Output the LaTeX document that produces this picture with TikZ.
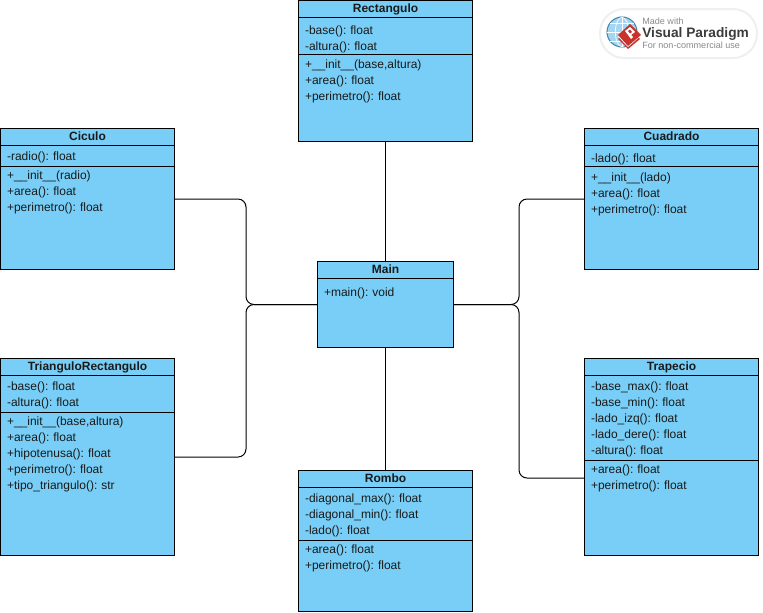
\documentclass[tikz,border=0pt]{standalone}
\usepackage{fontspec}
\setmainfont{Liberation Sans}
\usetikzlibrary{positioning}
\frenchspacing
\definecolor{ClassFill}{HTML}{78CEF6}
\definecolor{Ink}{HTML}{1A1A1A}
\definecolor{PillEdge}{HTML}{EFEFEF}
\definecolor{GlobeBlue}{HTML}{7CC4EC}
\definecolor{GlobeEdge}{HTML}{4A86A8}
\definecolor{LogoRed}{HTML}{C8322B}
\definecolor{LogoGray}{HTML}{8A8A8A}
\definecolor{LogoDark}{HTML}{3C3C3C}

\begin{document}
\begin{tikzpicture}[
  x=0.75pt,y=-0.75pt,
  classbox/.style={draw=black,fill=ClassFill,line width=0.75pt,outer sep=0pt,anchor=north west,minimum width=130.5pt},
  titlebox/.style={draw=black,fill=ClassFill,line width=0.75pt,outer sep=0pt,inner sep=0pt,minimum width=130.5pt,minimum height=12.75pt,text height=6.5pt,text depth=1.5pt,font=\fontsize{9}{12}\selectfont\bfseries,text=Ink},
  attrbox/.style={draw=black,fill=ClassFill,line width=0.75pt,outer sep=0pt,inner xsep=4.9pt,inner ysep=0pt,text width=120.7pt,align=left,minimum height=#1*12pt+3.75pt,font=\fontsize{9}{12}\selectfont,text=Ink,execute at begin node={\rule{0pt}{8.7pt}}},
  methodtext/.style={anchor=north west,outer sep=0pt,inner xsep=4.9pt,inner ysep=2.85pt,text width=120.7pt,align=left,font=\fontsize{9}{12}\selectfont,text=Ink},
  conn/.style={draw=black,line width=0.75pt,rounded corners=6pt}
]
\useasboundingbox (0,0) rectangle (763,612);
% classes
\node[classbox,minimum height=105.75pt] (rectangulo) at (298.5,0.5) {};
\node[titlebox,below=0pt of rectangulo.north] (rectanguloT) {Rectangulo};
\node[attrbox=2,below=0pt of rectanguloT,execute at begin node={\rule{0pt}{11.7pt}}] (rectanguloA) {-base(): float\\-altura(): float};
\node[methodtext,inner ysep=4pt] (rectanguloM) at (rectanguloA.south west) {+\_\_init\_\_(base,altura)\\+area(): float\\+perimetro(): float};

\node[classbox,minimum height=105.75pt] (ciculo) at (0.5,128.5) {};
\node[titlebox,below=0pt of ciculo.north] (ciculoT) {Ciculo};
\node[attrbox=1,below=0pt of ciculoT] (ciculoA) {-radio(): float};
\node[methodtext] (ciculoM) at (ciculoA.south west) {+\_\_init\_\_(radio)\\+area(): float\\+perimetro(): float};

\node[classbox,minimum height=105.75pt] (cuadrado) at (584.5,128.5) {};
\node[titlebox,below=0pt of cuadrado.north] (cuadradoT) {Cuadrado};
\node[attrbox=1,below=0pt of cuadradoT,execute at begin node={\rule{0pt}{12.2pt}}] (cuadradoA) {-lado(): float};
\node[methodtext,inner ysep=4.85pt] (cuadradoM) at (cuadradoA.south west) {+\_\_init\_\_(lado)\\+area(): float\\+perimetro(): float};

\node[classbox,minimum width=102pt,minimum height=64.5pt] (main) at (317.5,261.5) {};
\node[titlebox,minimum width=102pt,below=0pt of main.north] (mainT) {Main};
\node[methodtext,text width=92pt,inner ysep=7pt] (mainM) at (mainT.south west) {+main(): void};

\node[classbox,minimum height=147.75pt] (triangulo) at (0.5,358.5) {};
\node[titlebox,below=0pt of triangulo.north] (trianguloT) {TrianguloRectangulo};
\node[attrbox=2,below=0pt of trianguloT] (trianguloA) {-base(): float\\-altura(): float};
\node[methodtext] (trianguloM) at (trianguloA.south west) {+\_\_init\_\_(base,altura)\\+area(): float\\+hipotenusa(): float\\+perimetro(): float\\+tipo\_triangulo(): str};

\node[classbox,minimum height=147.75pt] (trapecio) at (584.5,358.5) {};
\node[titlebox,below=0pt of trapecio.north] (trapecioT) {Trapecio};
\node[attrbox=5,below=0pt of trapecioT] (trapecioA) {-base\_max(): float\\-base\_min(): float\\-lado\_izq(): float\\-lado\_dere(): float\\-altura(): float};
\node[methodtext] (trapecioM) at (trapecioA.south west) {+area(): float\\+perimetro(): float};

\node[classbox,minimum height=105.75pt] (rombo) at (298.5,470.5) {};
\node[titlebox,below=0pt of rombo.north] (romboT) {Rombo};
\node[attrbox=3,below=0pt of romboT] (romboA) {-diagonal\_max(): float\\-diagonal\_min(): float\\-lado(): float};
\node[methodtext] (romboM) at (romboA.south west) {+area(): float\\+perimetro(): float};

% connectors
\coordinate (leftBus) at (246,304.5);
\coordinate (rightBus) at (519,304.5);
\draw[conn] (rectangulo.south -| main.north) -- (main.north);
\draw[conn] (main.south) -- (rombo.north -| main.south);
\draw[conn] (ciculo.east) -| (leftBus) -- (main.west);
\draw[conn] (triangulo.east) -| (leftBus) -- (main.west);
\draw[conn] (cuadrado.west) -| (rightBus) -- (main.east);
\draw[conn] ([yshift=-15.75pt]trapecio.west) -| (rightBus) -- (main.east);

% watermark
\draw[PillEdge,line width=1.5pt,fill=white,rounded corners=18pt] (600,9) rectangle (757,58);
\draw[GlobeEdge,line width=0.8pt,fill=GlobeBlue!70] (622,32) circle (11.25pt);
\draw[white,line width=0.5pt] (622,32) ellipse (5pt and 11pt);
\draw[white,line width=0.5pt] (607,32) -- (637,32);
\draw[white,line width=0.5pt] (610,23) -- (634,23);
\draw[white,line width=0.5pt] (610,41) -- (634,41);
\draw[white,line width=0.5pt] (622,17) -- (622,47);
\fill[LogoRed] (618,39) -- (629,28) -- (640,39) -- (628,49) -- cycle;
\fill[white] (618,36.5) -- (629,25.5) -- (640,36.5) -- (628,47) -- cycle;
\fill[LogoRed] (618,35) -- (630,24) -- (641,35) -- (628,46) -- cycle;
\fill[white] (625,31) -- (630,27) -- (635,32) -- (631,35) -- (633,37) -- (631,39) -- cycle;
\fill[LogoRed] (628,31) -- (630,29.5) -- (632,32) -- (630,33.5) -- cycle;
\node[anchor=west,inner sep=0pt,text=LogoGray,font=\fontsize{6.8}{8}\selectfont] (madeWith) at (642,21) {Made with};
\node[anchor=west,inner sep=0pt,text=LogoDark,font=\fontsize{10.3}{12}\selectfont\bfseries] (vpName) at (642,33.5) {Visual Paradigm};
\node[anchor=west,inner sep=0pt,text=LogoGray,font=\fontsize{6.8}{8}\selectfont] (nonCommercial) at (642,45.5) {For non-commercial use};
\end{tikzpicture}
\end{document}
